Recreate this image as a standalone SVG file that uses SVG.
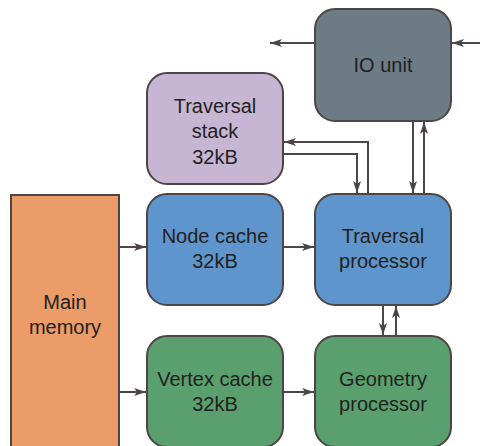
<svg xmlns="http://www.w3.org/2000/svg" width="480" height="446" viewBox="0 0 480 446">
<style>
.box{stroke:#4d4546;stroke-width:2}
.t{font-family:"Liberation Sans",Arial,sans-serif;font-size:20px;fill:#231f20;text-anchor:middle}
.c{fill:none;stroke:#4d4546;stroke-width:2;marker-end:url(#ah)}
</style>
<defs>
<marker id="ah" viewBox="0 0 12 8" refX="12" refY="4" markerWidth="12" markerHeight="8" orient="auto" markerUnits="userSpaceOnUse">
<path d="M0,0 L12,4 L0,8 L3,4 z" fill="#4d4546"/>
</marker>
</defs>
<rect width="480" height="446" fill="#ffffff"/>
<g id="main-memory">
<rect class="box" x="11" y="195" width="108" height="270" fill="#eb9c68"/>
<text class="t" x="65" y="309">Main</text>
<text class="t" x="65" y="334">memory</text>
</g>
<g id="io-unit">
<rect class="box" x="315" y="9" width="136" height="112" rx="20" fill="#6d7b84"/>
<text class="t" x="383" y="72">IO unit</text>
</g>
<g id="traversal-stack">
<rect class="box" x="147" y="73" width="136" height="111" rx="20" fill="#c7b6d3"/>
<text class="t" x="215" y="113">Traversal</text>
<text class="t" x="215" y="138">stack</text>
<text class="t" x="215" y="164">32kB</text>
</g>
<g id="node-cache">
<rect class="box" x="147" y="194" width="136" height="111" rx="20" fill="#5e95cc"/>
<text class="t" x="215" y="243">Node cache</text>
<text class="t" x="215" y="268">32kB</text>
</g>
<g id="traversal-processor">
<rect class="box" x="315" y="194" width="136" height="111" rx="20" fill="#5e95cc"/>
<text class="t" x="383" y="243">Traversal</text>
<text class="t" x="383" y="268">processor</text>
</g>
<g id="vertex-cache">
<rect class="box" x="147" y="336" width="136" height="111" rx="20" fill="#59a06e"/>
<text class="t" x="215" y="386">Vertex cache</text>
<text class="t" x="215" y="411">32kB</text>
</g>
<g id="geometry-processor">
<rect class="box" x="315" y="336" width="136" height="111" rx="20" fill="#59a06e"/>
<text class="t" x="383" y="386">Geometry</text>
<text class="t" x="383" y="411">processor</text>
</g>
<g id="connectors">
<path class="c" d="M315,43 H270"/>
<path class="c" d="M480,43 H452"/>
<path class="c" d="M413,121 V193"/>
<path class="c" d="M424,193 V122"/>
<path class="c" d="M368,193 V142 H284"/>
<path class="c" d="M283,154 H357 V193"/>
<path class="c" d="M119,247 H146"/>
<path class="c" d="M283,247 H314"/>
<path class="c" d="M119,392 H146"/>
<path class="c" d="M283,392 H314"/>
<path class="c" d="M383,305 V335"/>
<path class="c" d="M396,335 V306"/>
</g>
</svg>
